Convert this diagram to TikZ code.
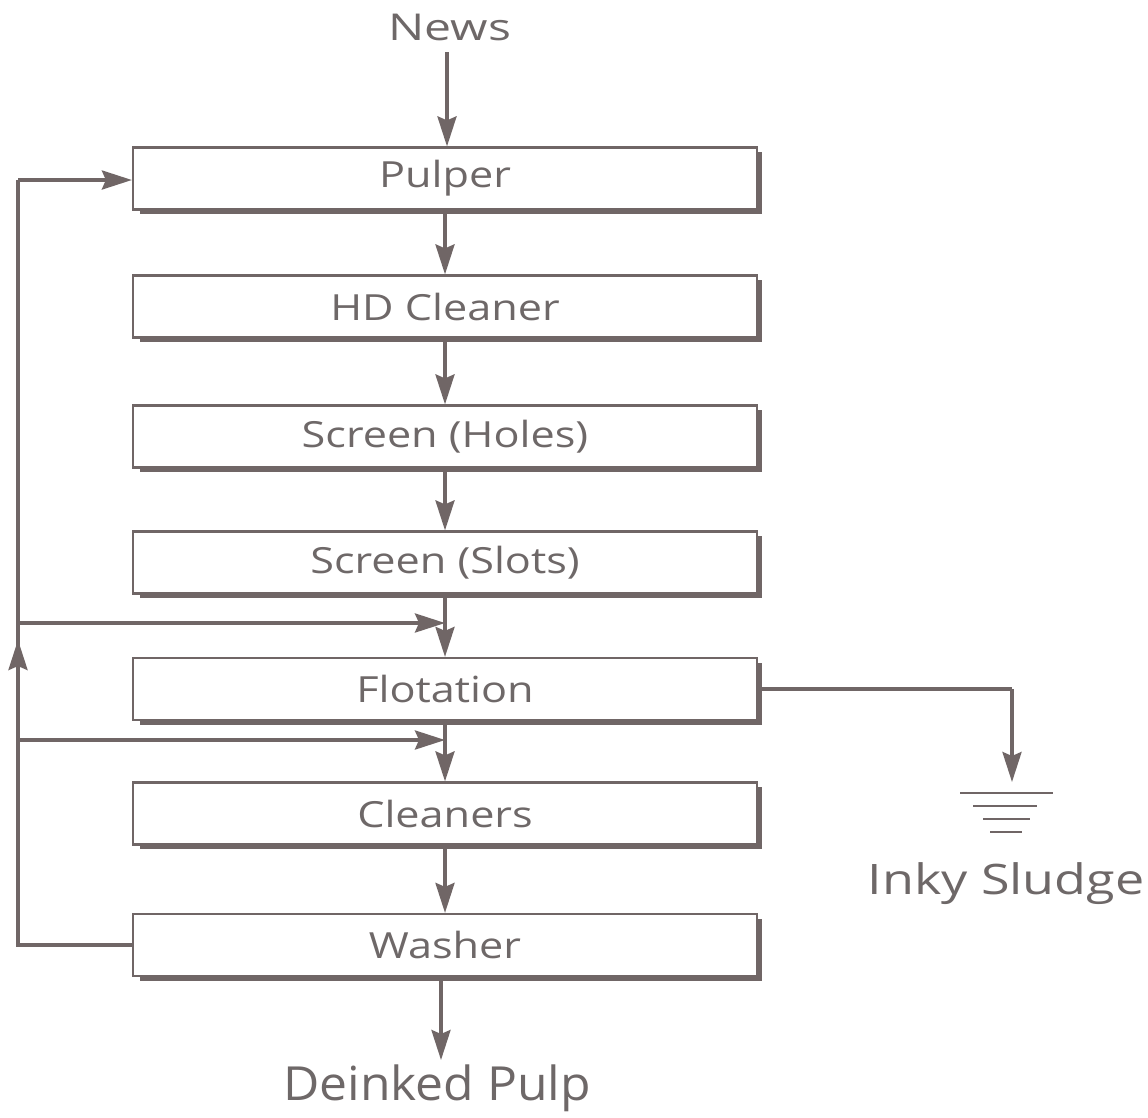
\documentclass[tikz,border=0pt]{standalone}
\usepackage{fontspec}
\setmainfont{Open Sans}
\newfontfamily\boxfont{Open Sans}[FakeStretch=1.2]
\newfontfamily\newsfont{Open Sans}[FakeStretch=1.3]
\newfontfamily\pulpfont{Open Sans}[FakeStretch=1.06]
\newfontfamily\sludgefont{Open Sans}[FakeStretch=1.24]
\usetikzlibrary{arrows.meta}
\definecolor{ink}{RGB}{112,102,102}
\definecolor{txt}{RGB}{110,104,104}
\begin{document}
\begin{tikzpicture}[x=1pt,y=-1pt,
  box/.style={draw=ink, line width=2.2pt, minimum width=624pt, minimum height=62pt,
    inner sep=0pt, text=txt, font=\boxfont\fontsize{36}{42}\selectfont},
  lbl/.style={text=txt, inner sep=0pt},
  conn/.style={draw=ink, line width=3.5pt},
  arr/.style={conn, -{Stealth[length=30pt,width=19pt,inset=4pt]}},
  shadowline/.style={draw=ink, line width=5pt}]
\useasboundingbox (0,0) rectangle (1148,1117);
\fill[white] (0,0) rectangle (1148,1117);

\node[box] (pulper) at (445,178.5) {Pulper};
\node[box] (hd) at (445,306.5) {HD Cleaner};
\node[box] (holes) at (445,436.5) {Screen (Holes)};
\node[box] (slots) at (445,562.5) {Screen (Slots)};
\node[box] (flot) at (445,689) {Flotation};
\node[box] (clean) at (445,813.5) {Cleaners};
\node[box] (wash) at (445,945) {Washer};

\foreach \b in {pulper,hd,holes,slots,flot,clean,wash}{
  \draw[shadowline] ([xshift=8pt,yshift=-1pt]\b.south west) -- ([xshift=1pt,yshift=-1pt]\b.south east) -- ([xshift=1pt,yshift=-6pt]\b.north east);
}

\node[lbl, font=\newsfont\fontsize{37}{44}\selectfont] (news) at (450,27) {News};
\node[lbl, font=\pulpfont\fontsize{47}{56}\selectfont] (pulp) at (437,1088) {Deinked Pulp};
\node[lbl, font=\sludgefont\fontsize{42}{50}\selectfont] (sludge) at (1006,884) {Inky Sludge};

% main chain
\coordinate (n0) at (447,52);
\draw[arr] (n0) -- (n0 |- pulper.north);
\draw[arr] (pulper.south) -- (hd.north);
\draw[arr] (hd.south) -- (holes.north);
\draw[arr] (holes.south) -- (slots.north);
\draw[arr] (slots.south) -- (flot.north);
\draw[arr] (flot.south) -- (clean.north);
\draw[arr] (clean.south) -- (wash.north);
\coordinate (d0) at (441,979);
\coordinate (d1) at (441,1060);
\draw[arr] (d0) -- (d1);

% recycle loop
\coordinate (lc) at (18,945);
\coordinate (lt) at (18,180);
\coordinate (j1) at (445,623);
\coordinate (j2) at (445,740);
\coordinate (l1) at (18,623);
\coordinate (l2) at (18,740);
\coordinate (up0) at (18,665);
\coordinate (up1) at (18,640);
\draw[conn] (wash.west) -- (lc) -- (lt);
\draw[arr] (lt) -- (lt -| pulper.west);
\draw[arr] (l1) -- (j1);
\draw[arr] (l2) -- (j2);
\draw[arr] (up0) -- (up1);

% sludge
\coordinate (s1) at (1012,689);
\coordinate (g0) at (1012,782);
\draw[conn] (flot.east) -- (s1);
\draw[arr] (s1) -- (g0);
\coordinate (ga1) at (960,793); \coordinate (gb1) at (1053,793);
\coordinate (ga2) at (973,806); \coordinate (gb2) at (1037,806);
\coordinate (ga3) at (983,819); \coordinate (gb3) at (1030,819);
\coordinate (ga4) at (990,832); \coordinate (gb4) at (1022,832);
\draw[conn, line width=2.8pt] (ga1) -- (gb1) (ga2) -- (gb2) (ga3) -- (gb3) (ga4) -- (gb4);
\end{tikzpicture}
\end{document}
